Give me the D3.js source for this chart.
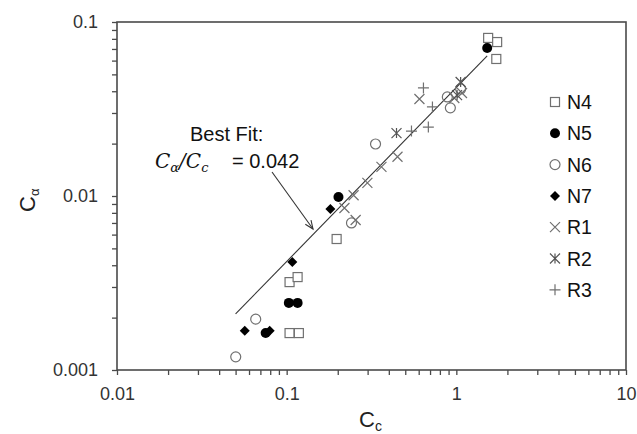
<!DOCTYPE html>
<html><head><meta charset="utf-8">
<script src="https://cdn.jsdelivr.net/npm/d3@7"></script>
<style>body{margin:0;background:#fff}svg{display:block}</style>
</head><body>
<svg id="c" width="637" height="434"></svg>
<script>
const xTicks = [0.01, 0.1, 1, 10];
const xTickLabels = ["0.01", "0.1", "1", "10"];
const yTicks = [0.001, 0.01, 0.1];
const yTickLabels = ["0.001", "0.01", "0.1"];
const seriesNames = ["N4", "N5", "N6", "N7", "R1", "R2", "R3"];
const N4 = [[1.54,0.081],[1.74,0.0767],[1.72,0.0613],[0.197,0.00566],[0.104,0.0032],[0.116,0.00342],[0.104,0.00163],[0.118,0.00163]];
const N5 = [[1.52,0.0709],[0.202,0.00987],[0.103,0.00243],[0.116,0.00243],[0.0752,0.00163]];
const N6 = [[0.0501,0.00119],[0.0657,0.00196],[0.241,0.0070],[0.334,0.0199],[0.885,0.0371],[0.922,0.0321],[1.06,0.0412]];
const N7 = [[0.0566,0.00168],[0.0794,0.00168],[0.108,0.00418],[0.181,0.00842]];
const R1 = [[0.219,0.00853],[0.248,0.0101],[0.255,0.00728],[0.299,0.0119],[0.362,0.0147],[0.45,0.0168],[0.606,0.0361],[0.973,0.0366],[1.08,0.0391]];
const R2 = [[0.444,0.023],[1.06,0.0452],[1.01,0.038]];
const R3 = [[0.64,0.0418],[0.723,0.0325],[0.544,0.0236],[0.684,0.0249]];
const fitSlope = 0.042;
const fitRange = [0.05, 1.52];

const svg = d3.select("#c");
const L = 117, R = 626, T = 22, B = 370;
const x = d3.scaleLog().domain([0.01, 10]).range([L, R]);
const y = d3.scaleLog().domain([0.001, 0.1]).range([B, T]);
const axisCol = "#4a4a4a", mk = "#707070";

const minorX = [], minorY = [];
[0.01,0.1,1].forEach(d => { for (let k=1;k<10;k++) minorX.push(d*k); });
minorX.push(10);
[0.001,0.01].forEach(d => { for (let k=1;k<10;k++) minorY.push(d*k); });
minorY.push(0.1);

const xAxis = d3.axisBottom(x).tickValues(minorX).tickSize(5)
  .tickFormat(d => { const i = xTicks.findIndex(t => Math.abs(t-d)/t < 1e-6); return i>=0 ? xTickLabels[i] : ""; });
const yAxis = d3.axisLeft(y).tickValues(minorY).tickSize(5)
  .tickFormat(d => { const i = yTicks.findIndex(t => Math.abs(t-d)/t < 1e-6); return i>=0 ? yTickLabels[i] : ""; });

const gx = svg.append("g").attr("transform", `translate(0,${B})`).call(xAxis);
const gy = svg.append("g").attr("transform", `translate(${L},0)`).call(yAxis);
[gx, gy].forEach(g => {
  g.select(".domain").remove();
  g.selectAll("line").attr("stroke", axisCol).attr("stroke-width", 1.3);
  g.selectAll("text").attr("font-family", "Arial, 'Liberation Sans', sans-serif").attr("font-size", 18).attr("fill", "#333");
});
gx.selectAll("text").attr("dy", "1.2em");
gy.selectAll("text").attr("x", -19);

svg.append("rect").attr("x", L).attr("y", T).attr("width", R-L).attr("height", B-T)
  .attr("fill", "none").attr("stroke", axisCol).attr("stroke-width", 1.6);

svg.append("line").attr("x1", x(fitRange[0])).attr("y1", y(fitRange[0]*fitSlope))
  .attr("x2", x(fitRange[1])).attr("y2", y(fitRange[1]*fitSlope))
  .attr("stroke", "#333").attr("stroke-width", 1.1);

function drawMarker(g, type, cx, cy) {
  const s = 4.5;
  if (type === "N4") g.append("rect").attr("x", cx-s).attr("y", cy-s).attr("width", 2*s).attr("height", 2*s).attr("fill", "#fff").attr("stroke", mk).attr("stroke-width", 1.2);
  else if (type === "N5") g.append("circle").attr("cx", cx).attr("cy", cy).attr("r", 5).attr("fill", "#000");
  else if (type === "N6") g.append("circle").attr("cx", cx).attr("cy", cy).attr("r", 5).attr("fill", "none").attr("stroke", mk).attr("stroke-width", 1.2);
  else if (type === "N7") g.append("path").attr("d", `M${cx},${cy-5}L${cx+5},${cy}L${cx},${cy+5}L${cx-5},${cy}Z`).attr("fill", "#000");
  else if (type === "R1") g.append("path").attr("d", `M${cx-5},${cy-5}L${cx+5},${cy+5}M${cx-5},${cy+5}L${cx+5},${cy-5}`).attr("stroke", mk).attr("stroke-width", 1.2);
  else if (type === "R2") g.append("path").attr("d", `M${cx-5},${cy-5}L${cx+5},${cy+5}M${cx-5},${cy+5}L${cx+5},${cy-5}M${cx},${cy-5}L${cx},${cy+5}`).attr("stroke", "#555").attr("stroke-width", 1.2);
  else if (type === "R3") g.append("path").attr("d", `M${cx-5.5},${cy}L${cx+5.5},${cy}M${cx},${cy-5.5}L${cx},${cy+5.5}`).attr("stroke", mk).attr("stroke-width", 1.2);
}

const data = {N4, N5, N6, N7, R1, R2, R3};
const gp = svg.append("g");
["N4","N6","R1","R2","R3","N7","N5"].forEach(name => {
  data[name].forEach(d => drawMarker(gp, name, x(d[0]), y(d[1])));
});

const lg = svg.append("g");
seriesNames.forEach((name, i) => {
  const cy = 102 + i*31.3;
  drawMarker(lg, name, 555, cy);
  lg.append("text").attr("x", 567).attr("y", cy).attr("dy", "0.36em")
    .attr("font-family", "Arial, 'Liberation Sans', sans-serif").attr("font-size", 19.5).attr("fill", "#111").text(name);
});

const tx = svg.append("text").attr("x", 359).attr("y", 427)
  .attr("font-family", "Arial, 'Liberation Sans', sans-serif").attr("font-size", 22).attr("fill", "#222");
tx.append("tspan").text("C");
tx.append("tspan").attr("font-size", 14).attr("dy", 4).text("c");

const ty = svg.append("text").attr("transform", "translate(35,212) rotate(-90)")
  .attr("font-family", "Arial, 'Liberation Sans', sans-serif").attr("font-size", 22).attr("fill", "#222");
ty.append("tspan").text("C");
ty.append("tspan").attr("font-size", 13).attr("dy", 4).text("α");

svg.append("text").attr("x", 190).attr("y", 141)
  .attr("font-family", "Arial, 'Liberation Sans', sans-serif").attr("font-size", 20).attr("fill", "#111").text("Best Fit:");
const eq = svg.append("text").attr("x", 155).attr("y", 168)
  .attr("font-family", "'DejaVu Serif', 'Liberation Serif', serif").attr("font-style", "italic").attr("font-size", 20).attr("fill", "#111");
eq.append("tspan").text("C");
eq.append("tspan").attr("font-size", 13).attr("dy", 4).text("α");
eq.append("tspan").attr("dy", -4).text("/C");
eq.append("tspan").attr("font-size", 13).attr("dy", 4).text("c");
svg.append("text").attr("x", 232).attr("y", 168)
  .attr("font-family", "Arial, 'Liberation Sans', sans-serif").attr("font-size", 20).attr("fill", "#111").text("= 0.042");

const ax1 = 272, ay1 = 172, ax2 = 313, ay2 = 229;
svg.append("line").attr("x1", ax1).attr("y1", ay1).attr("x2", ax2).attr("y2", ay2).attr("stroke", "#333").attr("stroke-width", 1.1);
const ang = Math.atan2(ay2-ay1, ax2-ax1), hl = 9;
svg.append("path").attr("d",
  `M${ax2 - hl*Math.cos(ang-0.4)},${ay2 - hl*Math.sin(ang-0.4)}L${ax2},${ay2}L${ax2 - hl*Math.cos(ang+0.4)},${ay2 - hl*Math.sin(ang+0.4)}`)
  .attr("fill", "none").attr("stroke", "#333").attr("stroke-width", 1.1);
</script>
</body></html>
